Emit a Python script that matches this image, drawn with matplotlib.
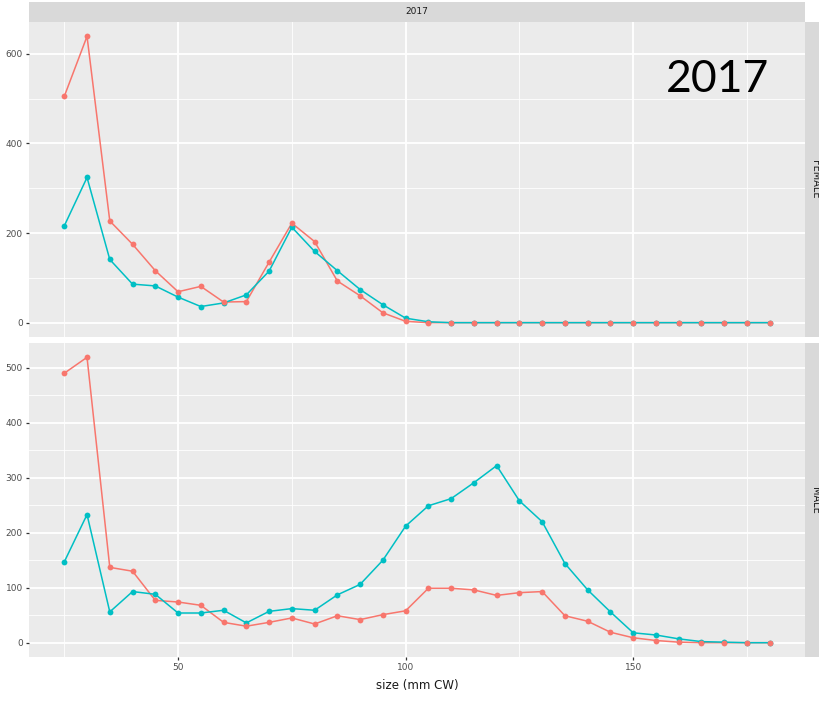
import matplotlib
matplotlib.use("Agg")
import matplotlib.pyplot as plt
from matplotlib.ticker import MultipleLocator

# size classes (mm carapace width)
sizes = list(range(25, 185, 5))

# counts per size class, panel FEMALE
female_red = [505, 639, 227, 175, 116, 69, 81, 46, 47, 135, 222, 181, 93, 60, 22, 3,
              0, 0, 0, 0, 0, 0, 0, 0, 0, 0, 0, 0, 0, 0, 0, 0]
female_teal = [216, 324, 141, 86, 82, 57, 36, 44, 62, 115, 213, 159, 116, 74, 40, 10,
               2, 0, 0, 0, 0, 0, 0, 0, 0, 0, 0, 0, 0, 0, 0, 0]

# counts per size class, panel MALE
male_red = [490, 519, 137, 130, 77, 74, 68, 37, 30, 37, 45, 34, 49, 42, 51, 58,
            99, 99, 96, 86, 91, 93, 49, 39, 19, 9, 4, 1, 0, 0, 0, 0]
male_teal = [147, 233, 56, 93, 88, 54, 54, 59, 36, 57, 62, 59, 87, 106, 150, 212,
             249, 262, 291, 322, 258, 220, 144, 96, 56, 18, 14, 7, 2, 1, 0, 0]

year_label = "2017"
row_labels = ["FEMALE", "MALE"]
x_title = "size (mm CW)"

RED = "#F8766D"
TEAL = "#00BFC4"
PANEL_BG = "#EBEBEB"
STRIP_BG = "#D9D9D9"

W, H = 820, 707
fig = plt.figure(figsize=(W / 100, H / 100), dpi=100)


def box(x0, y0, x1, y1):
    """Pixel box (top-left origin) -> figure rect."""
    return [x0 / W, 1 - y1 / H, (x1 - x0) / W, (y1 - y0) / H]


px_left, px_right = 29, 805
panels = [
    (22, 337, female_red, female_teal, 200, 100, (-32, 671)),
    (343, 657, male_red, male_teal, 100, 50, (-26, 545)),
]

axes = []
for i, (top, bot, red, teal, major, minor, ylim) in enumerate(panels):
    ax = fig.add_axes(box(px_left, top, px_right, bot))
    ax.set_facecolor(PANEL_BG)
    for s in ax.spines.values():
        s.set_visible(False)
    ax.set_xlim(17.25, 187.75)
    ax.set_ylim(*ylim)
    ax.xaxis.set_major_locator(MultipleLocator(50))
    ax.xaxis.set_minor_locator(MultipleLocator(25))
    ax.yaxis.set_major_locator(MultipleLocator(major))
    ax.yaxis.set_minor_locator(MultipleLocator(minor))
    ax.grid(which="major", color="white", lw=1.3)
    ax.grid(which="minor", color="white", lw=0.6)
    ax.set_axisbelow(True)
    ax.tick_params(which="major", length=2.5, width=0.9, color="#333333",
                   labelsize=6.5, labelcolor="#4D4D4D", pad=2)
    ax.tick_params(which="minor", length=0)
    if i == 0:
        ax.tick_params(axis="x", which="major", labelbottom=False, length=0)

    ax.plot(sizes, red, color=RED, lw=1.1, zorder=3)
    ax.plot(sizes, teal, color=TEAL, lw=1.1, zorder=3)
    ax.plot(sizes, teal, "o", color=TEAL, ms=4.2, mec="none", zorder=4)
    ax.plot(sizes, red, "o", color=RED, ms=4.2, mec="none", zorder=4)

    # right-hand facet strip
    sax = fig.add_axes(box(px_right, top, px_right + 21, bot))
    sax.set_facecolor(STRIP_BG)
    sax.set_xticks([]); sax.set_yticks([])
    for s in sax.spines.values():
        s.set_visible(False)
    sax.text(0.5, 0.5, row_labels[i], rotation=-90, ha="center", va="center",
             fontsize=7, color="#1A1A1A", transform=sax.transAxes)
    axes.append(ax)

# top facet strip
tax = fig.add_axes(box(px_left, 2, px_right, 22))
tax.set_facecolor(STRIP_BG)
tax.set_xticks([]); tax.set_yticks([])
for s in tax.spines.values():
    s.set_visible(False)
tax.text(0.5, 0.5, year_label, ha="center", va="center", fontsize=6.5,
         color="#1A1A1A", transform=tax.transAxes)

# x-axis title
fig.text((px_left + px_right) / 2 / W, 1 - 686 / H, x_title, ha="center",
         va="center", fontsize=8.5, color="#1A1A1A")

# large year annotation
fig.text(718 / W, 1 - 79 / H, year_label, ha="center", va="center",
         fontsize=32, family="Lato", color="black")

fig.savefig("out.png", dpi=100)
